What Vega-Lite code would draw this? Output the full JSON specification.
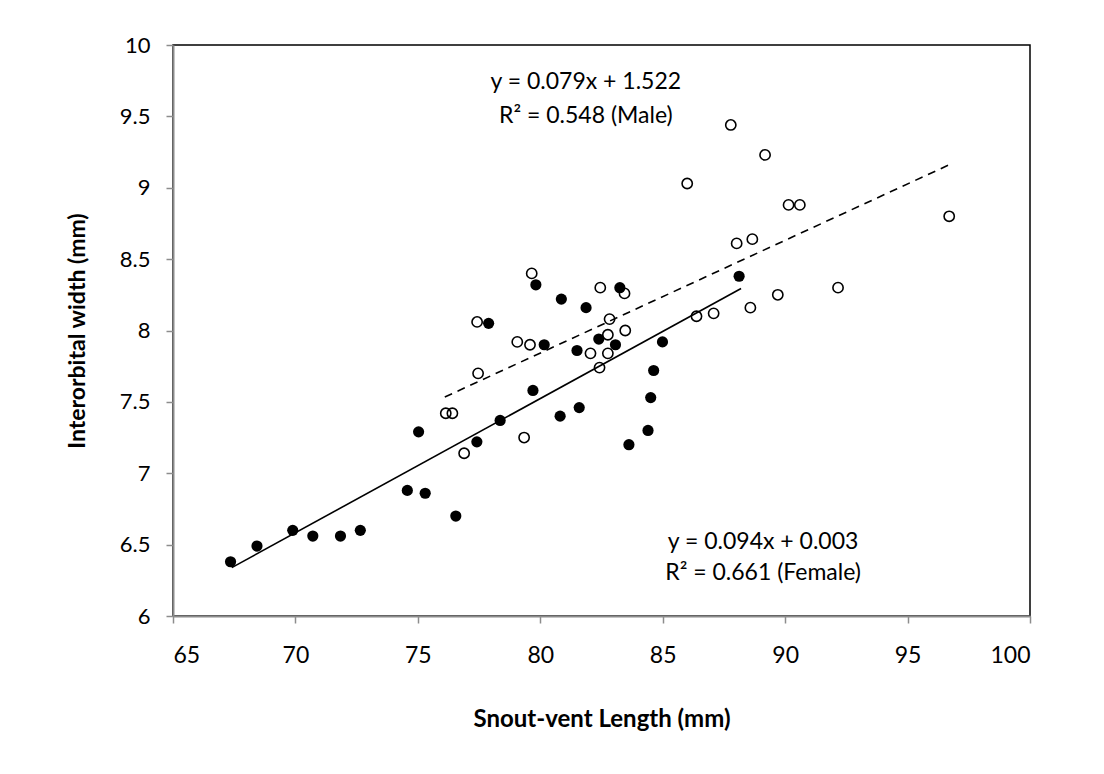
{
  "$schema": "https://vega.github.io/schema/vega-lite/v6.json",
  "autosize": "none",
  "width": 857,
  "height": 571,
  "padding": {"left": 173, "top": 45, "right": 74, "bottom": 158},
  "background": "white",
  "config": {
    "font": "Lato",
    "view": {"stroke": "black", "strokeWidth": 1.5},
    "axis": {
      "grid": false,
      "domainColor": "#8c8c8c",
      "domainWidth": 2,
      "tickColor": "#8c8c8c",
      "tickWidth": 1.5,
      "tickSize": 7,
      "labelColor": "black",
      "labelFont": "Lato",
      "titleFont": "Lato",
      "titleColor": "black",
      "titleFontWeight": "bold"
    }
  },
  "datasets": {
    "specimens": [
      {"svl": 67.35, "iow": 6.38, "sex": "Female"},
      {"svl": 68.43, "iow": 6.49, "sex": "Female"},
      {"svl": 69.89, "iow": 6.60, "sex": "Female"},
      {"svl": 70.71, "iow": 6.56, "sex": "Female"},
      {"svl": 71.84, "iow": 6.56, "sex": "Female"},
      {"svl": 72.65, "iow": 6.60, "sex": "Female"},
      {"svl": 74.57, "iow": 6.88, "sex": "Female"},
      {"svl": 75.30, "iow": 6.86, "sex": "Female"},
      {"svl": 75.03, "iow": 7.29, "sex": "Female"},
      {"svl": 76.55, "iow": 6.70, "sex": "Female"},
      {"svl": 77.41, "iow": 7.22, "sex": "Female"},
      {"svl": 77.89, "iow": 8.05, "sex": "Female"},
      {"svl": 78.36, "iow": 7.37, "sex": "Female"},
      {"svl": 79.70, "iow": 7.58, "sex": "Female"},
      {"svl": 79.82, "iow": 8.32, "sex": "Female"},
      {"svl": 80.16, "iow": 7.90, "sex": "Female"},
      {"svl": 80.81, "iow": 7.40, "sex": "Female"},
      {"svl": 80.86, "iow": 8.22, "sex": "Female"},
      {"svl": 81.50, "iow": 7.86, "sex": "Female"},
      {"svl": 81.59, "iow": 7.46, "sex": "Female"},
      {"svl": 81.87, "iow": 8.16, "sex": "Female"},
      {"svl": 82.39, "iow": 7.94, "sex": "Female"},
      {"svl": 83.07, "iow": 7.90, "sex": "Female"},
      {"svl": 83.25, "iow": 8.30, "sex": "Female"},
      {"svl": 83.62, "iow": 7.20, "sex": "Female"},
      {"svl": 84.40, "iow": 7.30, "sex": "Female"},
      {"svl": 84.51, "iow": 7.53, "sex": "Female"},
      {"svl": 84.63, "iow": 7.72, "sex": "Female"},
      {"svl": 84.99, "iow": 7.92, "sex": "Female"},
      {"svl": 88.12, "iow": 8.38, "sex": "Female"},
      {"svl": 76.14, "iow": 7.42, "sex": "Male"},
      {"svl": 76.41, "iow": 7.42, "sex": "Male"},
      {"svl": 76.89, "iow": 7.14, "sex": "Male"},
      {"svl": 77.42, "iow": 8.06, "sex": "Male"},
      {"svl": 77.46, "iow": 7.70, "sex": "Male"},
      {"svl": 79.06, "iow": 7.92, "sex": "Male"},
      {"svl": 79.34, "iow": 7.25, "sex": "Male"},
      {"svl": 79.58, "iow": 7.90, "sex": "Male"},
      {"svl": 79.65, "iow": 8.40, "sex": "Male"},
      {"svl": 82.05, "iow": 7.84, "sex": "Male"},
      {"svl": 82.42, "iow": 7.74, "sex": "Male"},
      {"svl": 82.45, "iow": 8.30, "sex": "Male"},
      {"svl": 82.76, "iow": 7.97, "sex": "Male"},
      {"svl": 82.76, "iow": 7.84, "sex": "Male"},
      {"svl": 82.83, "iow": 8.08, "sex": "Male"},
      {"svl": 83.44, "iow": 8.26, "sex": "Male"},
      {"svl": 83.47, "iow": 8.00, "sex": "Male"},
      {"svl": 86.00, "iow": 9.03, "sex": "Male"},
      {"svl": 86.38, "iow": 8.10, "sex": "Male"},
      {"svl": 87.08, "iow": 8.12, "sex": "Male"},
      {"svl": 87.78, "iow": 9.44, "sex": "Male"},
      {"svl": 88.02, "iow": 8.61, "sex": "Male"},
      {"svl": 88.58, "iow": 8.16, "sex": "Male"},
      {"svl": 88.66, "iow": 8.64, "sex": "Male"},
      {"svl": 89.18, "iow": 9.23, "sex": "Male"},
      {"svl": 89.70, "iow": 8.25, "sex": "Male"},
      {"svl": 90.14, "iow": 8.88, "sex": "Male"},
      {"svl": 90.60, "iow": 8.88, "sex": "Male"},
      {"svl": 92.16, "iow": 8.30, "sex": "Male"},
      {"svl": 96.70, "iow": 8.80, "sex": "Male"}
    ],
    "trendlines": [
      {"svl": 67.4, "iow": 6.339, "sex": "Female"},
      {"svl": 88.2, "iow": 8.294, "sex": "Female"},
      {"svl": 76.1, "iow": 7.534, "sex": "Male"},
      {"svl": 96.8, "iow": 9.169, "sex": "Male"}
    ],
    "equations": [
      {"svl": 81.86, "iow": 9.74, "label": "y = 0.079x + 1.522"},
      {"svl": 81.86, "iow": 9.50, "label": "R² = 0.548 (Male)"},
      {"svl": 89.1, "iow": 6.52, "label": "y = 0.094x + 0.003"},
      {"svl": 89.1, "iow": 6.30, "label": "R² = 0.661 (Female)"}
    ]
  },
  "layer": [
    {
      "data": {"name": "trendlines"},
      "transform": [{"filter": "datum.sex === 'Male'"}],
      "mark": {"type": "line", "color": "black", "strokeWidth": 1.6, "strokeDash": [8, 6]},
      "encoding": {
        "x": {"field": "svl", "type": "quantitative"},
        "y": {"field": "iow", "type": "quantitative"}
      }
    },
    {
      "data": {"name": "trendlines"},
      "transform": [{"filter": "datum.sex === 'Female'"}],
      "mark": {"type": "line", "color": "black", "strokeWidth": 1.6},
      "encoding": {
        "x": {"field": "svl", "type": "quantitative"},
        "y": {"field": "iow", "type": "quantitative"}
      }
    },
    {
      "data": {"name": "specimens"},
      "transform": [{"filter": "datum.sex === 'Male'"}],
      "mark": {"type": "point", "shape": "circle", "filled": false, "color": "black", "strokeWidth": 1.6, "size": 105, "opacity": 1},
      "encoding": {
        "x": {
          "field": "svl", "type": "quantitative",
          "scale": {"domain": [65, 100], "nice": false, "zero": false},
          "axis": {
            "values": [65, 70, 75, 80, 85, 90, 95, 100],
            "format": "d",
            "title": "Snout-vent Length (mm)",
            "labelFontSize": 23,
            "labelPadding": 21,
            "titleFontSize": 24,
            "titlePadding": 40
          }
        },
        "y": {
          "field": "iow", "type": "quantitative",
          "scale": {"domain": [6, 10], "nice": false, "zero": false},
          "axis": {
            "values": [6, 6.5, 7, 7.5, 8, 8.5, 9, 9.5, 10],
            "format": "~g",
            "title": "Interorbital width (mm)",
            "labelFontSize": 22,
            "labelPadding": 16,
            "titleFontSize": 23,
            "titlePadding": 30
          }
        }
      }
    },
    {
      "data": {"name": "specimens"},
      "transform": [{"filter": "datum.sex === 'Female'"}],
      "mark": {"type": "circle", "color": "black", "size": 125, "opacity": 1},
      "encoding": {
        "x": {"field": "svl", "type": "quantitative"},
        "y": {"field": "iow", "type": "quantitative"}
      }
    },
    {
      "data": {"name": "equations"},
      "mark": {"type": "text", "fontSize": 23, "color": "black", "align": "center", "baseline": "middle", "font": "Lato"},
      "encoding": {
        "x": {"field": "svl", "type": "quantitative"},
        "y": {"field": "iow", "type": "quantitative"},
        "text": {"field": "label"}
      }
    }
  ]
}
